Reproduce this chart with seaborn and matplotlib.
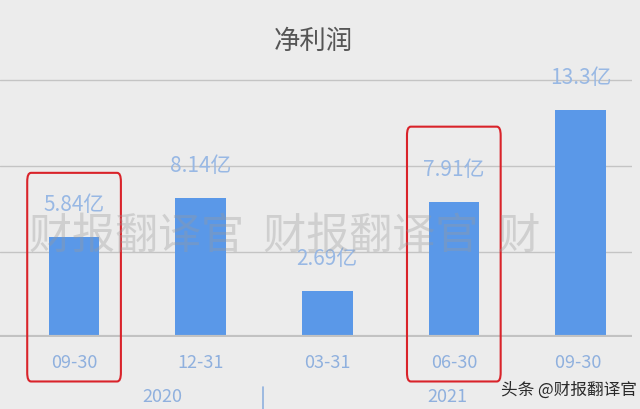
import pandas as pd
import matplotlib.pyplot as plt
import matplotlib.transforms as mtransforms
from matplotlib.patches import FancyBboxPatch
import seaborn as sns

# net profit per report date (亿)
dates = ['09-30', '12-31', '03-31', '06-30', '09-30 ']
profit = [5.84, 8.14, 2.69, 7.91, 13.3]
profit_labels = ['5.84亿', '8.14亿', '2.69亿', '7.91亿', '13.3亿']
years = ['2020', '2021']
highlight = [0, 3]

data = pd.DataFrame({'date': dates, 'profit': profit})

sns.set_theme(style='white')
plt.rcParams['font.family'] = ['Noto Sans CJK SC', 'DejaVu Sans']

bg = '#ececec'
fig = plt.figure(figsize=(6.4, 4.09), dpi=100, facecolor=bg)
ax = fig.add_axes([0.0, 0.176, 0.988, 0.669], facecolor=bg)

sns.barplot(x='date', y='profit', data=data, color='#5a98e8', width=0.4,
            saturation=1, linewidth=0, ax=ax, zorder=3)

ax.set_xlim(-0.585, 4.41)
ax.set_ylim(0, 16)
ax.set_yticks([5, 10, 15])
ax.yaxis.grid(True, color='#c4c4c4', linewidth=1)
ax.set_axisbelow(True)
for s in ax.spines.values():
    s.set_visible(False)
ax.axhline(0, color='#c2c2c2', linewidth=3, zorder=4)
ax.set_xlabel('')
ax.set_ylabel('')
ax.set_yticklabels([])
ax.tick_params(axis='y', length=0)
ax.tick_params(axis='x', length=0, pad=12, labelsize=13, labelcolor='#8fb0de')

for i, lab in enumerate(profit_labels):
    ax.annotate(lab, (i, profit[i]), xytext=(0, 23), textcoords='offset points',
                ha='center', va='center', fontsize=15, color='#98b8e4',
                fontweight='medium', zorder=5)

fig.text(0.49, 0.898, '净利润', ha='center', va='center', fontsize=19, color='#555555')

# year row under the dates
blend = mtransforms.blended_transform_factory(ax.transData, fig.transFigure)
ax.text(0.70, 0.03, years[0], transform=blend, ha='center', va='center',
        fontsize=13, color='#8fb0de')
ax.text(2.95, 0.03, years[1], transform=blend, ha='center', va='center',
        fontsize=13, color='#8fb0de')
ax.plot([1.49, 1.49], [0.0, 0.055], transform=blend, color='#8fb0de',
        linewidth=1.2, clip_on=False)

# red highlight boxes
for i, top in zip(highlight, [9.6, 12.3]):
    box = FancyBboxPatch((i - 0.37, -2.6), 0.74, top + 2.6,
                         boxstyle='round,pad=0,rounding_size=0.03',
                         mutation_aspect=17,
                         fill=False, edgecolor='#d9232a', linewidth=1.5,
                         clip_on=False, zorder=6)
    ax.add_patch(box)

# watermarks
fig.text(0.045, 0.42, '财报翻译官  财报翻译官  财', ha='left', va='center',
         fontsize=31, color='#9a9a9a', alpha=0.35, zorder=10)
fig.text(0.995, 0.047, '头条 @财报翻译官', ha='right', va='center',
         fontsize=12, color='#2a2a2a', zorder=10)

fig.savefig('out.png', dpi=100, facecolor=bg)
